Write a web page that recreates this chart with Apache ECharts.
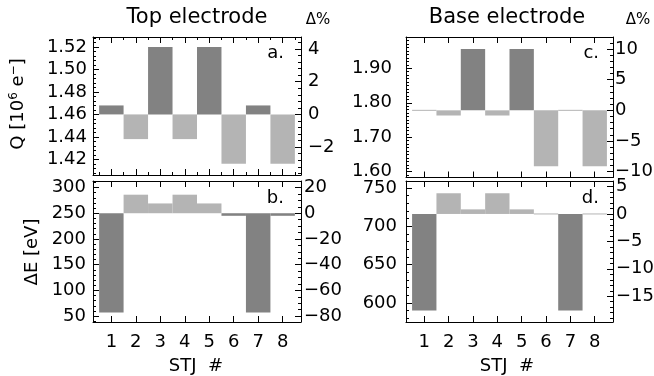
<!DOCTYPE html>
<html>
<head>
<meta charset="utf-8">
<script src="https://cdn.jsdelivr.net/npm/echarts@6/dist/echarts.min.js"></script>
<style>
  html, body { margin: 0; padding: 0; background: #fff; }
  #chart { width: 654px; height: 376px; }
</style>
</head>
<body>
<div id="chart"></div>
<script>
// STJ numbering along the horizontal axes
const stj = [1, 2, 3, 4, 5, 6, 7, 8];

// Collected charge per junction [10^6 e-]
const topCharge  = [1.468, 1.438, 1.520, 1.438, 1.520, 1.416, 1.468, 1.416];
const baseCharge = [1.778, 1.763, 1.956, 1.763, 1.956, 1.616, 1.778, 1.616];

// Energy resolution per junction [eV]
const topWidth  = [57, 286, 269, 286, 269, 245, 57, 245];
const baseWidth = [590, 743, 722, 743, 722, 716, 590, 716];

// Reference levels the bars hang from (0 on the Δ% scales)
const refTopCharge = 1.46;
const refBaseCharge = 1.778;
const refTopWidth = 250;
const refBaseWidth = 716;

// Tick labels
const qTopTicks  = [1.42, 1.44, 1.46, 1.48, 1.50, 1.52];
const qTopPct    = [-2, 0, 2, 4];
const eTopTicks  = [50, 100, 150, 200, 250, 300];
const eTopPct    = [-80, -60, -40, -20, 0, 20];
const qBaseTicks = [1.60, 1.70, 1.80, 1.90];
const qBasePct   = [-10, -5, 0, 5, 10];
const eBaseTicks = [600, 650, 700, 750];
const eBasePct   = [-15, -10, -5, 0, 5];

const FONT = 'DejaVu Sans';
const DARK = '#828282';
const LIGHT = '#b4b4b4';
const INK = '#000';

function steps(min, max, step) {
  const out = [];
  const k0 = Math.ceil(min / step - 1e-9), k1 = Math.floor(max / step + 1e-9);
  for (let k = k0; k <= k1; k++) out.push(+(k * step).toFixed(6));
  return out;
}
const pct = (v, ref) => (v / ref - 1) * 100;
const minus = v => (v < 0 ? '\u2212' + Math.abs(v) : String(v));

const panels = [
  { key: 'a', grid: { left: 93, top: 37, width: 208, height: 138 },
    values: topCharge, ref: refTopCharge, min: 1.406, max: 1.529, darkAbove: true,
    ticks: qTopTicks, minor: 0.004, fmt: v => v.toFixed(2), lm: 6,
    pTicks: qTopPct, pMinor: 0.4, rm: 7, xLabels: false, xMinor: 0.5 },
  { key: 'b', grid: { left: 93, top: 181, width: 208, height: 141 },
    values: topWidth, ref: refTopWidth, min: 38.7, max: 312.6, darkAbove: false,
    ticks: eTopTicks, minor: 10, fmt: v => String(v), lm: 7,
    pTicks: eTopPct, pMinor: 5, rm: 3, xLabels: true, xMinor: 0 },
  { key: 'c', grid: { left: 406, top: 37, width: 207, height: 140.5 },
    values: baseCharge, ref: refBaseCharge, min: 1.5832, max: 1.9907, darkAbove: true,
    ticks: qBaseTicks, minor: 0.01, fmt: v => v.toFixed(2), lm: 14,
    pTicks: qBasePct, pMinor: 1, rm: 2, xLabels: false, xMinor: 0 },
  { key: 'd', grid: { left: 406, top: 181, width: 207, height: 141 },
    values: baseWidth, ref: refBaseWidth, min: 575, max: 759, darkAbove: false,
    ticks: eBaseTicks, minor: 10, fmt: v => String(v), lm: 9,
    pTicks: eBasePct, pMinor: 1, rm: 3, xLabels: true, xMinor: 0 }
];

const grids = [], xAxes = [], yAxes = [], series = [];
const labelStyle = { fontFamily: FONT, fontSize: 18, color: INK };
const line = { show: true, onZero: false, lineStyle: { color: INK, width: 1 } };
const noLine = { show: false, onZero: false };

panels.forEach((p, g) => {
  grids.push(p.grid);

  // horizontal axes: bottom (with labels on the lower row) and top mirror
  let xMain = -1;
  ['bottom', 'top'].forEach(pos => {
    if (xMain < 0) xMain = xAxes.length;
    xAxes.push({
      type: 'value', gridIndex: g, position: pos, min: 0.25, max: 8.75,
      axisLine: line, splitLine: { show: false },
      axisTick: { show: true, inside: true, length: 6, customValues: stj, lineStyle: { color: INK } },
      axisLabel: (pos === 'bottom' && p.xLabels)
        ? Object.assign({ show: true, customValues: stj, margin: 11 }, labelStyle)
        : { show: false }
    });
    if (p.xMinor) {
      xAxes.push({
        type: 'value', gridIndex: g, position: pos, min: 0.25, max: 8.75,
        axisLine: noLine, splitLine: { show: false }, axisLabel: { show: false },
        axisTick: { show: true, inside: true, length: 3, customValues: steps(0.5, 8.5, p.xMinor), lineStyle: { color: INK } }
      });
    }
  });

  // left value axis
  const yMain = yAxes.length;
  yAxes.push({
    type: 'value', gridIndex: g, position: 'left', min: p.min, max: p.max,
    axisLine: line, splitLine: { show: false },
    axisTick: { show: true, inside: true, length: 6, customValues: p.ticks, lineStyle: { color: INK } },
    axisLabel: Object.assign({ show: true, customValues: p.ticks, margin: p.lm, formatter: p.fmt }, labelStyle)
  });
  yAxes.push({
    type: 'value', gridIndex: g, position: 'left', min: p.min, max: p.max,
    axisLine: noLine, splitLine: { show: false }, axisLabel: { show: false },
    axisTick: { show: true, inside: true, length: 3, customValues: steps(p.min, p.max, p.minor), lineStyle: { color: INK } }
  });

  // right Δ% axis, same span expressed relative to the reference level
  const pMin = pct(p.min, p.ref), pMax = pct(p.max, p.ref);
  yAxes.push({
    type: 'value', gridIndex: g, position: 'right', min: pMin, max: pMax,
    axisLine: line, splitLine: { show: false },
    axisTick: { show: true, inside: true, length: 6, customValues: p.pTicks, lineStyle: { color: INK } },
    axisLabel: Object.assign({ show: true, customValues: p.pTicks, margin: p.rm, formatter: minus }, labelStyle)
  });
  yAxes.push({
    type: 'value', gridIndex: g, position: 'right', min: pMin, max: pMax,
    axisLine: noLine, splitLine: { show: false }, axisLabel: { show: false },
    axisTick: { show: true, inside: true, length: 3, customValues: steps(pMin, pMax, p.pMinor), lineStyle: { color: INK } }
  });

  // bars drawn from the reference level to each value
  series.push({
    type: 'custom', xAxisIndex: xMain, yAxisIndex: yMain,
    data: stj.map((s, i) => [s, p.values[i]]),
    renderItem: (params, api) => {
      const x = api.value(0), v = api.value(1);
      const a = api.coord([x - 0.5, p.ref]);
      const b = api.coord([x + 0.5, v]);
      const h = Math.abs(a[1] - b[1]);
      const dark = p.darkAbove ? v > p.ref : v < p.ref;
      return {
        type: 'rect',
        shape: { x: a[0], y: h < 1 ? a[1] - 0.5 : Math.min(a[1], b[1]), width: b[0] - a[0], height: Math.max(h, 1) },
        style: { fill: dark ? DARK : LIGHT }
      };
    }
  });
});

function txt(x, y, text, size, extra) {
  return {
    type: 'text', x, y,
    style: Object.assign({ text, fontFamily: FONT, fontSize: size, fill: INK, align: 'center', verticalAlign: 'middle' }, extra || {})
  };
}
const sup = { sup: { fontSize: 12, fontFamily: FONT, fill: INK, verticalAlign: 'top', padding: [0, 0, 8, 0] } };

const graphic = [
  txt(197, 18, 'Top electrode', 21),
  txt(507, 18, 'Base electrode', 21),
  txt(318, 20, 'Δ%', 15),
  txt(638, 20, 'Δ%', 15),
  txt(284, 53, 'a.', 18, { align: 'right' }),
  txt(284, 198, 'b.', 18, { align: 'right' }),
  txt(599, 53, 'c.', 18, { align: 'right' }),
  txt(599, 198, 'd.', 18, { align: 'right' }),
  txt(196, 366, 'STJ  #', 18),
  txt(507, 366, 'STJ  #', 18),
  Object.assign(txt(18, 104, 'Q [10{sup|6} e{sup|\u2212}]', 18, { rich: sup }), { rotation: Math.PI / 2 }),
  Object.assign(txt(32, 252, 'ΔE [eV]', 18), { rotation: Math.PI / 2 })
];

const chart = echarts.init(document.getElementById('chart'), null, { renderer: 'canvas' });
chart.setOption({
  backgroundColor: '#fff',
  animation: false,
  grid: grids.map(gr => Object.assign({ outerBoundsMode: 'none', containLabel: false }, gr)),
  xAxis: xAxes,
  yAxis: yAxes,
  series,
  graphic
});
</script>
</body>
</html>
